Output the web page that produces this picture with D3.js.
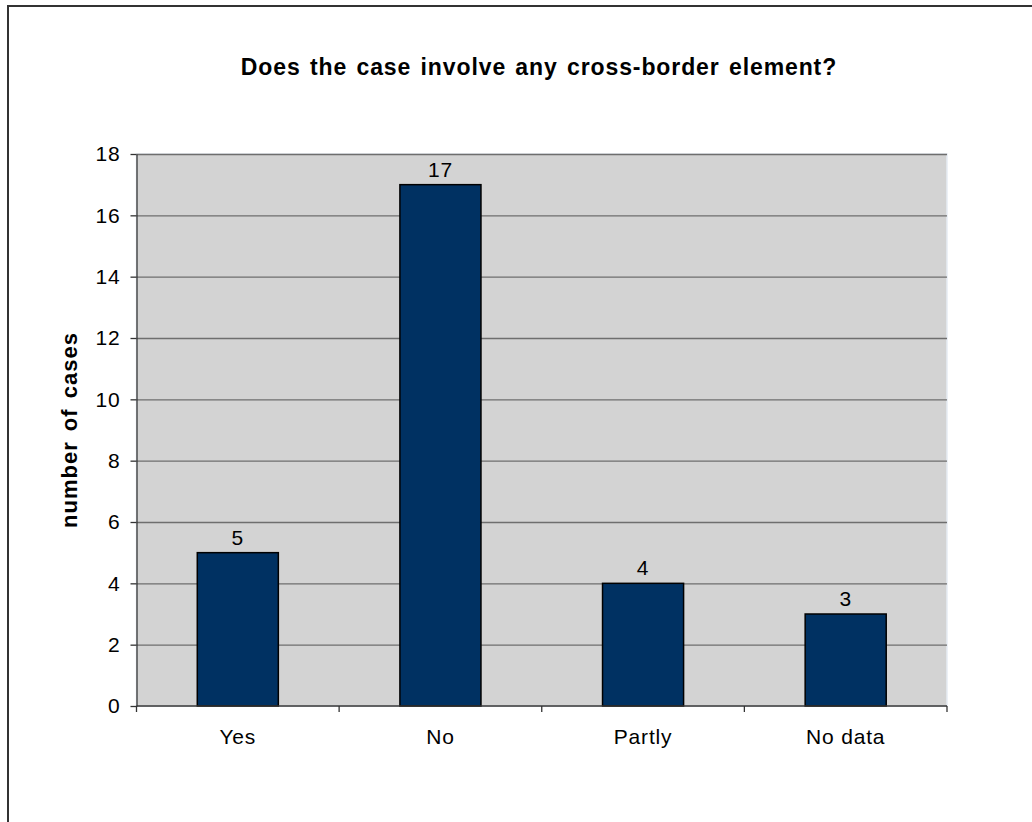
<!DOCTYPE html>
<meta charset="utf-8">
<style>
  body {
    margin: 0;
    background: #fff;
    font-family: "Liberation Sans", Arial, Helvetica, sans-serif;
  }
  .grid line { stroke: #6e6e6e; stroke-width: 1.3; }
  .grid .domain { display: none; }
  .axis text { font-size: 21px; fill: #000; letter-spacing: 0.8px; }
  .axis path, .axis line { stroke: #333; stroke-width: 1.3; }
</style>
<body>
<script src="https://cdnjs.cloudflare.com/ajax/libs/d3/7.8.5/d3.min.js"></script>
<script>

var categories = ["Yes", "No", "Partly", "No data"],
    counts = [5, 17, 4, 3],
    yTicks = [0, 2, 4, 6, 8, 10, 12, 14, 16, 18];

var width = 1032,
    height = 822,
    margin = {top: 154, right: 85, bottom: 116, left: 136.5},
    plotW = width - margin.left - margin.right,
    plotH = height - margin.top - margin.bottom;

var svg = d3.select("body").append("svg")
    .attr("width", width)
    .attr("height", height);

// outer frame (right and bottom edges fall outside the picture)
svg.append("rect")
    .attr("x", 8)
    .attr("y", 6)
    .attr("width", 1040)
    .attr("height", 840)
    .attr("fill", "none")
    .attr("stroke", "#333")
    .attr("stroke-width", 2);

svg.append("text")
    .attr("x", 539)
    .attr("y", 75)
    .attr("text-anchor", "middle")
    .style("font-weight", "bold")
    .style("font-size", "23px")
    .style("letter-spacing", "0.9px")
    .style("word-spacing", "2px")
    .text("Does the case involve any cross-border element?");

var g = svg.append("g")
    .attr("transform", "translate(" + margin.left + "," + margin.top + ")");

var x = d3.scaleBand()
    .domain(categories)
    .range([0, plotW])
    .paddingInner(0.6)
    .paddingOuter(0.3);

var y = d3.scaleLinear()
    .domain([0, 18])
    .range([plotH, 0]);

g.append("rect")
    .attr("width", plotW)
    .attr("height", plotH)
    .attr("fill", "#d3d3d3")
    .attr("stroke", "#e6ecf3")
    .attr("stroke-width", 1.5);

g.append("g")
    .attr("class", "grid")
    .call(d3.axisLeft(y).tickValues(yTicks.slice(1)).tickSize(-plotW).tickFormat(""));

g.selectAll(".bar")
    .data(counts)
    .enter().append("rect")
    .attr("class", "bar")
    .attr("x", function(d, i) { return x(categories[i]); })
    .attr("y", function(d) { return y(d); })
    .attr("width", x.bandwidth())
    .attr("height", function(d) { return plotH - y(d); })
    .attr("fill", "#003162")
    .attr("stroke", "#000")
    .attr("stroke-width", 1.5);

g.selectAll(".val")
    .data(counts)
    .enter().append("text")
    .attr("class", "val")
    .attr("x", function(d, i) { return x(categories[i]) + x.bandwidth() / 2; })
    .attr("y", function(d) { return y(d) - 8; })
    .attr("text-anchor", "middle")
    .style("font-size", "21px")
    .style("letter-spacing", "0.8px")
    .text(function(d) { return d; });

var yAxis = g.append("g")
    .attr("class", "axis")
    .call(d3.axisLeft(y).tickValues(yTicks).tickSize(6).tickPadding(10).tickSizeOuter(0));

// x axis: ticks sit on the category boundaries
var xAxis = g.append("g")
    .attr("class", "axis")
    .attr("transform", "translate(0," + plotH + ")");

xAxis.append("line")
    .attr("x1", 0).attr("x2", plotW);

xAxis.selectAll(".tick")
    .data(d3.range(categories.length + 1))
    .enter().append("line")
    .attr("x1", function(i) { return i * x.step(); })
    .attr("x2", function(i) { return i * x.step(); })
    .attr("y1", 0)
    .attr("y2", 6);

xAxis.selectAll(".lbl")
    .data(categories)
    .enter().append("text")
    .attr("x", function(d) { return x(d) + x.bandwidth() / 2; })
    .attr("y", 38)
    .attr("text-anchor", "middle")
    .text(function(d) { return d; });

svg.append("text")
    .attr("transform", "translate(77," + (margin.top + plotH / 2) + ")rotate(-90)")
    .attr("text-anchor", "middle")
    .style("font-weight", "bold")
    .style("font-size", "22px")
    .style("letter-spacing", "1px")
    .style("word-spacing", "3px")
    .text("number of cases");

</script>
</body>
